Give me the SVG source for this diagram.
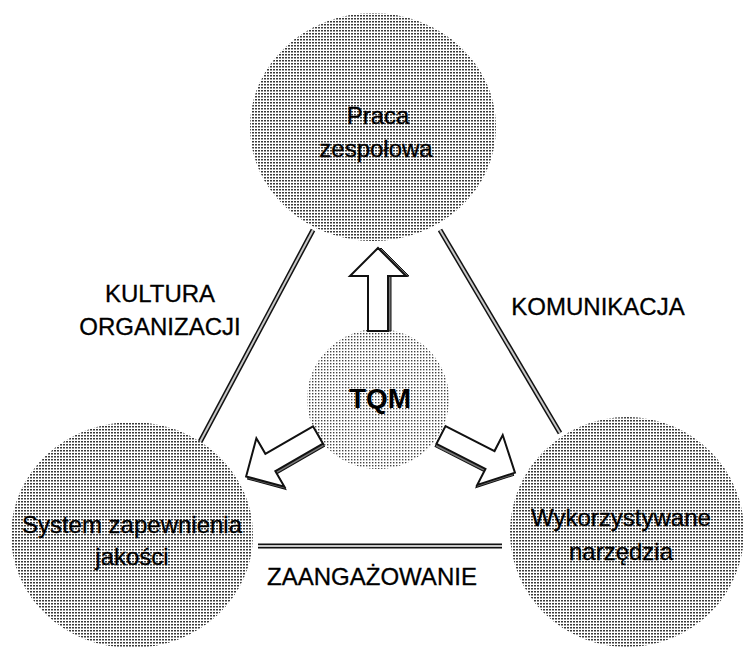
<svg xmlns="http://www.w3.org/2000/svg" width="743" height="650" viewBox="0 0 743 650">
<defs>
<pattern id="dots" width="3" height="3" patternUnits="userSpaceOnUse">
<rect width="3" height="3" fill="#ffffff"/>
<rect width="2" height="1.5" fill="#3a3a3a"/>
</pattern>
<pattern id="dotsLight" width="3" height="3" patternUnits="userSpaceOnUse">
<rect width="3" height="3" fill="#ffffff"/>
<rect width="1.4" height="1.4" fill="#444444"/>
</pattern>
<polygon id="arrow" points="0,-10 55,-10 55,-28 83,0 55,28 55,10 0,10"/>
</defs>
<style>
.lbl{font-family:"Liberation Sans",Arial,sans-serif;font-size:24px;fill:#000;stroke:#000;stroke-width:0.3;text-anchor:middle}
.tqm{font-family:"Liberation Sans",Arial,sans-serif;font-size:28px;font-weight:bold;fill:#000;text-anchor:middle}
.edgeOuter{stroke:#111;stroke-width:5;fill:none}
.edgeInner{stroke:#c8c8c8;stroke-width:2;fill:none}
.arr{fill:#fff;stroke:#111;stroke-width:2;stroke-linejoin:miter}
.arrShadow{fill:#777;stroke:#111;stroke-width:1}
</style>
<rect width="743" height="650" fill="#ffffff"/>
<g id="connectors">
<line class="edgeOuter" x1="313" y1="230" x2="200" y2="442"/>
<line class="edgeInner" x1="313" y1="230" x2="200" y2="442"/>
<line class="edgeOuter" x1="440" y1="230" x2="560" y2="433"/>
<line class="edgeInner" x1="440" y1="230" x2="560" y2="433"/>
<line class="edgeOuter" x1="258" y1="546" x2="502" y2="546"/>
<line class="edgeInner" x1="258" y1="546" x2="502" y2="546"/>
</g>
<g id="node-praca">
<ellipse cx="373" cy="127" rx="123" ry="114" fill="url(#dots)"/>
<text class="lbl" x="378" y="124">Praca</text>
<text class="lbl" x="376" y="157">zespołowa</text>
</g>
<g id="node-system">
<ellipse cx="132" cy="535" rx="121" ry="113" fill="url(#dots)"/>
<text class="lbl" x="132" y="533">System zapewnienia</text>
<text class="lbl" x="132" y="565">jakości</text>
</g>
<g id="node-narzedzia">
<ellipse cx="627" cy="532" rx="117" ry="115" fill="url(#dots)"/>
<text class="lbl" x="621" y="526">Wykorzystywane</text>
<text class="lbl" x="621" y="560">narzędzia</text>
</g>
<g id="node-tqm">
<ellipse cx="378" cy="399" rx="71" ry="70" fill="url(#dotsLight)"/>
<text class="tqm" x="380" y="408">TQM</text>
</g>
<g id="arrows">
<g transform="translate(378,331) rotate(-90)">
<use href="#arrow" class="arrShadow" transform="translate(0,3)"/>
<use href="#arrow" class="arr"/>
</g>
<g transform="translate(318,435) rotate(150)">
<use href="#arrow" class="arrShadow" transform="translate(0,-3)"/>
<use href="#arrow" class="arr"/>
</g>
<g transform="translate(441,435) rotate(27)">
<use href="#arrow" class="arrShadow" transform="translate(0,3)"/>
<use href="#arrow" class="arr"/>
</g>
</g>
<g id="labels">
<text class="lbl" x="160" y="302">KULTURA</text>
<text class="lbl" x="160" y="335">ORGANIZACJI</text>
<text class="lbl" x="598" y="315">KOMUNIKACJA</text>
<text class="lbl" x="372" y="585">ZAANGAŻOWANIE</text>
</g>
</svg>
